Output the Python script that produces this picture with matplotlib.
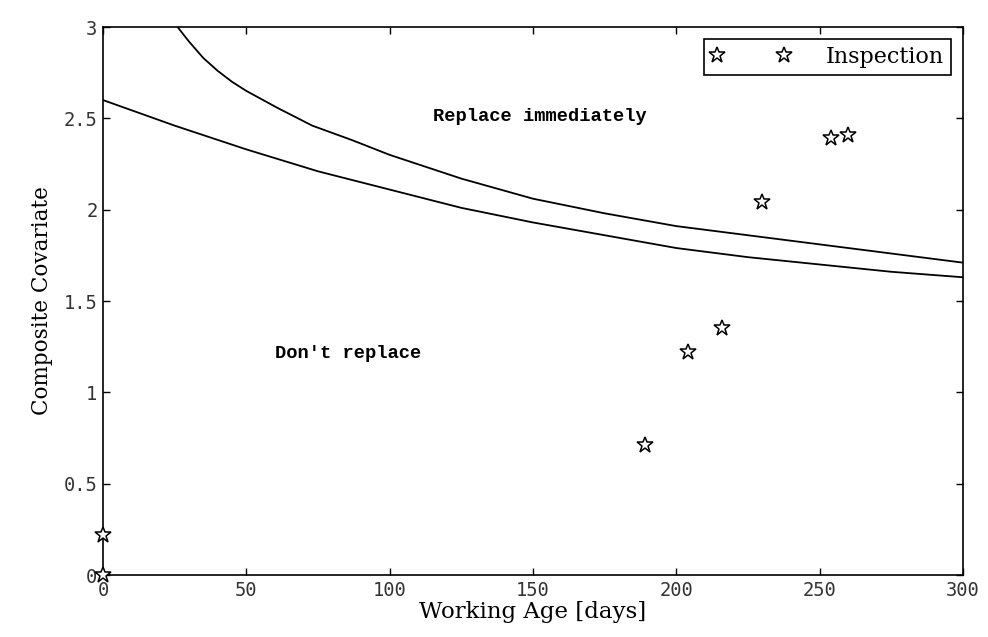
import matplotlib
matplotlib.use("Agg")
import matplotlib.pyplot as plt

# ── Data ──────────────────────────────────────────────────────────────────────
# upper control limit ("replace immediately" boundary)
upper_age = [22, 26, 30, 35, 40, 45, 50, 61, 73, 87, 100, 125, 150, 175, 200, 225, 250, 275, 300]
upper_cov = [3.09, 3.00, 2.92, 2.83, 2.76, 2.70, 2.65, 2.556, 2.46, 2.38, 2.30, 2.17, 2.06, 1.98, 1.91, 1.86, 1.81, 1.76, 1.71]

# lower control limit ("don't replace" boundary)
lower_age = [0, 25, 50, 75, 100, 125, 150, 175, 200, 225, 250, 275, 300]
lower_cov = [2.60, 2.46, 2.33, 2.21, 2.11, 2.01, 1.93, 1.86, 1.79, 1.74, 1.70, 1.66, 1.63]

# inspection points
insp_age = [0, 0, 189, 204, 216, 230, 254, 260]
insp_cov = [0.0, 0.22, 0.71, 1.22, 1.35, 2.04, 2.39, 2.41]

xticks = [0, 50, 100, 150, 200, 250, 300]
yticks = [0, 0.5, 1, 1.5, 2, 2.5, 3]
ytick_labels = ["0", "0.5", "1", "1.5", "2", "2.5", "3"]

# ── Figure ────────────────────────────────────────────────────────────────────
fig = plt.figure(figsize=(9.88, 6.37), dpi=100)
ax = fig.add_axes([0.1043, 0.0973, 0.8704, 0.8603])

ax.plot(upper_age, upper_cov, color="black", lw=1.3)
ax.plot(lower_age, lower_cov, color="black", lw=1.3)
ax.plot(insp_age, insp_cov, linestyle="none", marker="*", markersize=12,
        markerfacecolor="white", markeredgecolor="black", markeredgewidth=1.1,
        clip_on=False, zorder=5, label="Inspection")

ax.set_xlim(0, 300)
ax.set_ylim(0, 3)
ax.set_xticks(xticks)
ax.set_yticks(yticks)
ax.set_yticklabels(ytick_labels)
ax.tick_params(direction="in", length=5, width=1, top=True, right=True,
               labelsize=13.5, pad=4)
for lab in ax.get_xticklabels() + ax.get_yticklabels():
    lab.set_family("DejaVu Sans Mono")
    lab.set_color("#333333")
for sp in ax.spines.values():
    sp.set_linewidth(1.2)

ax.set_xlabel("Working Age [days]", fontsize=16.5, family="DejaVu Serif",
              labelpad=1)
ax.set_ylabel("Composite Covariate", fontsize=15.5, family="DejaVu Serif",
              labelpad=8)

# region labels
ax.text(115, 2.51, "Replace immediately", fontsize=13.5, fontweight="bold",
        family="Liberation Mono", va="center", ha="left")
ax.text(60, 1.215, "Don't replace", fontsize=13.5, fontweight="bold",
        family="Liberation Mono", va="center", ha="left")

leg = ax.legend(loc="upper right", numpoints=2, handlelength=3.6,
                fancybox=False, framealpha=1, edgecolor="black",
                prop={"family": "DejaVu Serif", "size": 16},
                borderaxespad=0.55, borderpad=0.3, handletextpad=1.6)
leg.get_frame().set_linewidth(1.2)

plt.savefig("out.png", dpi=100)
